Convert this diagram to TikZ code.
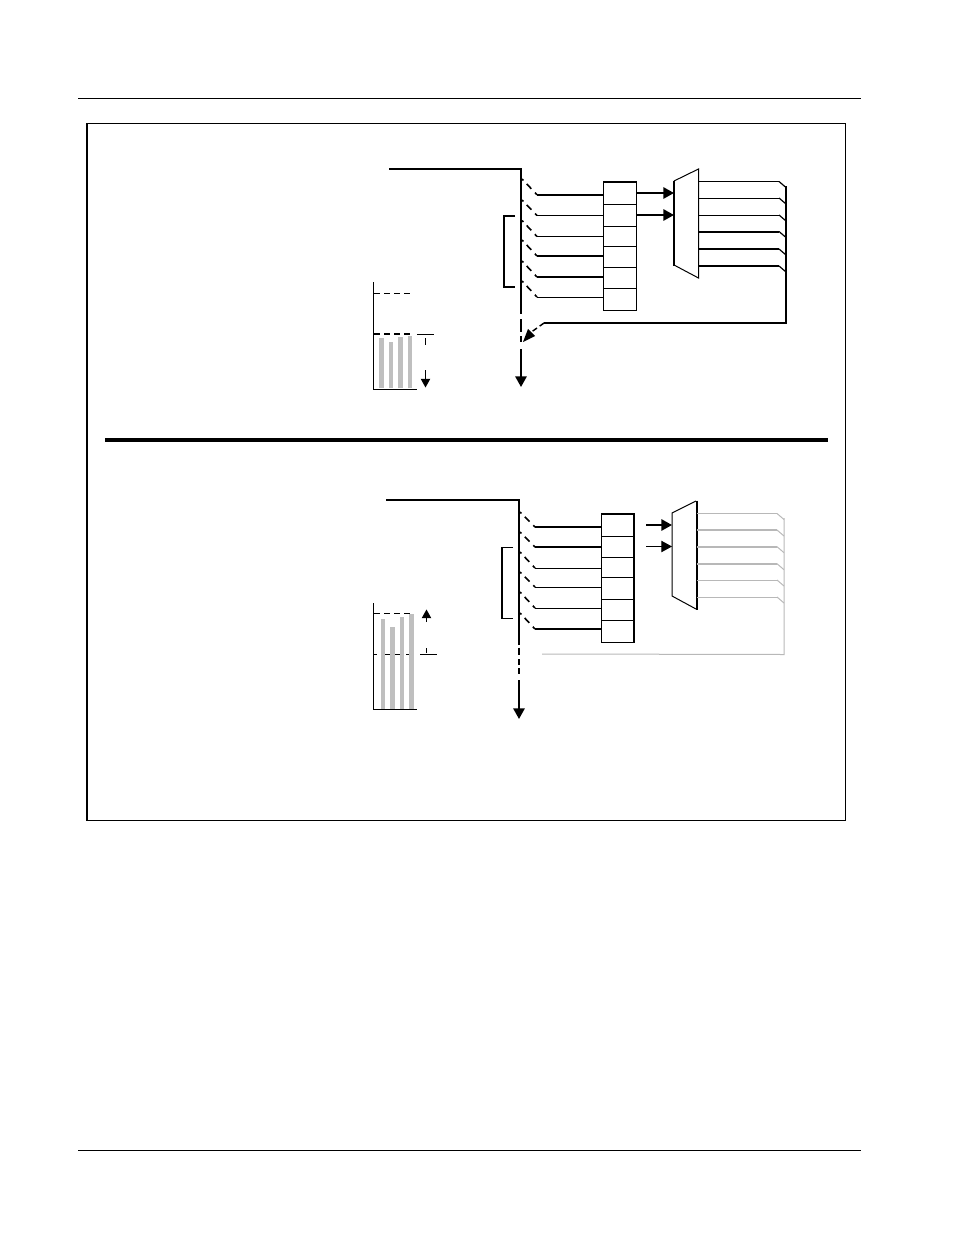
\documentclass[tikz,border=0pt]{standalone}
\usetikzlibrary{arrows.meta}
\definecolor{barg}{gray}{0.75}
\definecolor{wireg}{gray}{0.72}
\tikzset{
  x=0.75pt,y=-0.75pt,
  thin wire/.style={line width=0.75pt,black,line cap=butt},
  thick wire/.style={line width=1.5pt,black,line cap=butt},
  hair/.style={line width=0.7pt,black},
  heavy/.style={line width=1.45pt,black,line join=miter},
  gthin/.style={line width=0.75pt,wireg},
  gthick/.style={line width=1.4pt,wireg},
  sw/.style={line width=1.2pt,black,dash pattern=on 1.5pt off 3.6pt on 5pt off 4pt on 5pt off 3pt},
  arrowed/.style={-{Triangle[length=8pt,width=8.5pt]}},
  dashthin/.style={line width=0.75pt,black,dash pattern=on 4.5pt off 3pt},
  dashthick/.style={line width=1.5pt,black,dash pattern=on 4.5pt off 3pt},
}
\begin{document}
\begin{tikzpicture}
\useasboundingbox (0,0) rectangle (954,1235);
% page rules and frame
\coordinate (hl) at (78,98.5); \coordinate (hr) at (861,98.5);
\coordinate (fl) at (78,1150.5); \coordinate (fr) at (861,1150.5);
\draw[hair] (hl)--(hr); \draw[hair] (fl)--(fr);
\coordinate (f1) at (87,123.5); \coordinate (f2) at (845.5,820.5);
\draw[line width=0.8pt] (f1) rectangle (f2);
\draw[line width=1.5pt] (87,123.2)--(87,820.8);
\coordinate (dl) at (105,439.5); \coordinate (dr) at (828,439.5);
\draw[line width=3pt] (dl)--(dr);

% ===== top panel =====
\coordinate (tIn) at (389,169); \coordinate (tC) at (521,169);
\coordinate (tEnd) at (521,314); \coordinate (tD1) at (521,319);\coordinate (tD2) at (521,332);
\coordinate (tD3) at (521,336);\coordinate (tD4) at (521,342);
\coordinate (tS) at (521,349); \coordinate (tTip) at (521,387);
\draw[heavy] (tIn)--(tC)--(tEnd);
\draw[heavy] (tD1)--(tD2); \draw[heavy] (tD3)--(tD4);
\draw[thick wire,arrowed] (tS)--(tTip);
% switch lines
\foreach \ys/\ye/\st/\n in {179/194.7/thick wire/1,200/215.5/thin wire/2,220.5/236.5/thin wire/3,240/256/thick wire/4,261/277/thick wire/5,281/297/thin wire/6}{
  \coordinate (tA\n) at (522,\ys);
  \coordinate (tB\n) at (537,\ye);
  \coordinate (tE\n) at (604,\ye);
  \draw[sw] (tA\n)--(tB\n);
  \draw[\st] (tB\n)--(tE\n);
}
% register
\coordinate (tR1) at (603.5,182); \coordinate (tR2) at (636.5,310.5);
\draw[thin wire] (tR1) rectangle (tR2);
\draw[thick wire] (603,182)--(637,182);
\foreach \y in {204,226,246,267.5,288}{\draw[thin wire] (603.5,\y)--(636.5,\y);}
% to mux
\coordinate (tP1) at (637,193); \coordinate (tM1) at (674,193);
\coordinate (tP2) at (637,215); \coordinate (tM2) at (674,215);
\draw[thick wire,arrowed] (tP1)--(tM1);
\draw[thick wire,arrowed] (tP2)--(tM2);
% mux
\draw[thin wire,line join=miter] (674,181)--(698.5,169)--(698.5,278)--(674,265);
\draw[thick wire] (674,180.5)--(674,265.5);
% outputs
\foreach \y/\st/\n in {181.5/thin wire/1,198/thin wire/2,215/thin wire/3,231.5/thick wire/4,249/thick wire/5,266/thick wire/6}{
  \coordinate (tO\n) at (698,\y);
  \coordinate (tQ\n) at (779,\y);
  \coordinate (tR\n) at (786,\y+6);
  \draw[\st] (tO\n)--(tQ\n);
  \draw[line width=0.9pt] (tQ\n)--(tR\n);
}
\coordinate (tK) at (786,323); \coordinate (tL) at (544,323); \coordinate (tG) at (523,342);
\draw[heavy] (786,186)--(tK)--(tL);
\draw[line width=1.1pt,dash pattern=on 4pt off 2.5pt] (tL)--(530,333);
\fill[black] (523,342)--(535,336)--(528,329)--cycle;
% bracket
\draw[heavy] (515,216)--(504,216)--(504,287)--(515,287);
% chart top
\fill[barg] (379,338) rectangle (384,388);
\fill[barg] (389,342) rectangle (393,388);
\fill[barg] (398,337) rectangle (403,388);
\fill[barg] (408,336) rectangle (412,388);
\draw[thin wire] (373.5,282)--(373.5,389.5)--(417,389.5);
\draw[dashthin] (374,293.5)--(412,293.5);
\draw[dashthick] (374,333.5)--(413,333.5);
\draw[thin wire] (417,334)--(434,334);
\draw[thin wire] (425.5,338)--(425.5,345);
\coordinate (tAr1) at (425.5,370); \coordinate (tAr2) at (425.5,387.5);
\draw[thin wire,-{Triangle[length=6.5pt,width=7pt]}] (tAr1)--(tAr2);

% ===== bottom panel =====
\coordinate (bIn) at (386,500); \coordinate (bC) at (519,500);
\coordinate (bEnd) at (519,645);
\draw[heavy] (bIn)--(bC)--(bEnd);
\draw[heavy] (519,647.5)--(519,655);
\draw[heavy] (519,659)--(519,665);
\draw[heavy] (519,668)--(519,674);
\coordinate (bS) at (519,680); \coordinate (bTip) at (519,719);
\draw[thick wire,arrowed] (bS)--(bTip);
\foreach \ys/\ye/\st/\n in {512/527/thick wire/1,532/547/thick wire/2,552/568/thin wire/3,572/587/thin wire/4,592/608/thin wire/5,613/629/thick wire/6}{
  \coordinate (bA\n) at (520,\ys);
  \coordinate (bB\n) at (535,\ye);
  \coordinate (bE\n) at (602,\ye);
  \draw[sw] (bA\n)--(bB\n);
  \draw[\st] (bB\n)--(bE\n);
}
\coordinate (bR1) at (601.5,514); \coordinate (bR2) at (634,642);
\draw[thin wire] (bR1) rectangle (bR2);
\draw[thick wire] (601,514)--(634.7,514);
\draw[thick wire] (634,514)--(634,642.4);
\foreach \y in {536,557,577,599,620}{\draw[thin wire] (601.5,\y)--(634,\y);}
\coordinate (bP1) at (646,525); \coordinate (bM1) at (672,525);
\coordinate (bP2) at (646,546.5); \coordinate (bM2) at (672,546.5);
\draw[thick wire,arrowed] (bP1)--(bM1);
\draw[thin wire,arrowed] (bP2)--(bM2);
\draw[thin wire,line join=miter] (696,501)--(672,513)--(672,596)--(696,609);
\draw[thick wire] (696.5,500.5)--(696.5,609.5);
\foreach \y/\st/\n in {513.5/gthin/1,530/gthick/2,546.7/gthick/3,563.7/gthick/4,580/gthin/5,597/gthin/6}{
  \coordinate (bO\n) at (697,\y);
  \coordinate (bQ\n) at (777,\y);
  \coordinate (bU\n) at (784,\y+6);
  \draw[\st] (bO\n)--(bQ\n);
  \draw[gthin] (bQ\n)--(bU\n);
}
\coordinate (bK) at (784,654); \coordinate (bL) at (542,654);
\draw[line width=0.75pt,wireg] (784,518)--(784,654.5)--(bL);
\draw[line width=0.9pt] (513,547.5)--(502,547.5)--(502,618.5)--(513,618.5);
% chart bottom
\foreach \a/\b in {374/377,385/390,395/400,406/409}{\draw[thin wire] (\a,654.5)--(\b,654.5);}
\fill[barg] (381,619) rectangle (385,709);
\fill[barg] (390,627) rectangle (395,709);
\fill[barg] (400,617) rectangle (404,709);
\fill[barg] (409,614) rectangle (414,709);
\draw[thin wire] (373.5,603)--(373.5,709.5)--(417,709.5);
\draw[dashthin] (374,613.5)--(412,613.5);
\draw[thin wire] (420,654.5)--(437,654.5);
\draw[thin wire] (426.5,648)--(426.5,653);
\coordinate (bAr1) at (426.5,622); \coordinate (bAr2) at (426.5,609.5);
\draw[thin wire,-{Triangle[length=6.5pt,width=7pt]}] (bAr1)--(bAr2);
\end{tikzpicture}
\end{document}
